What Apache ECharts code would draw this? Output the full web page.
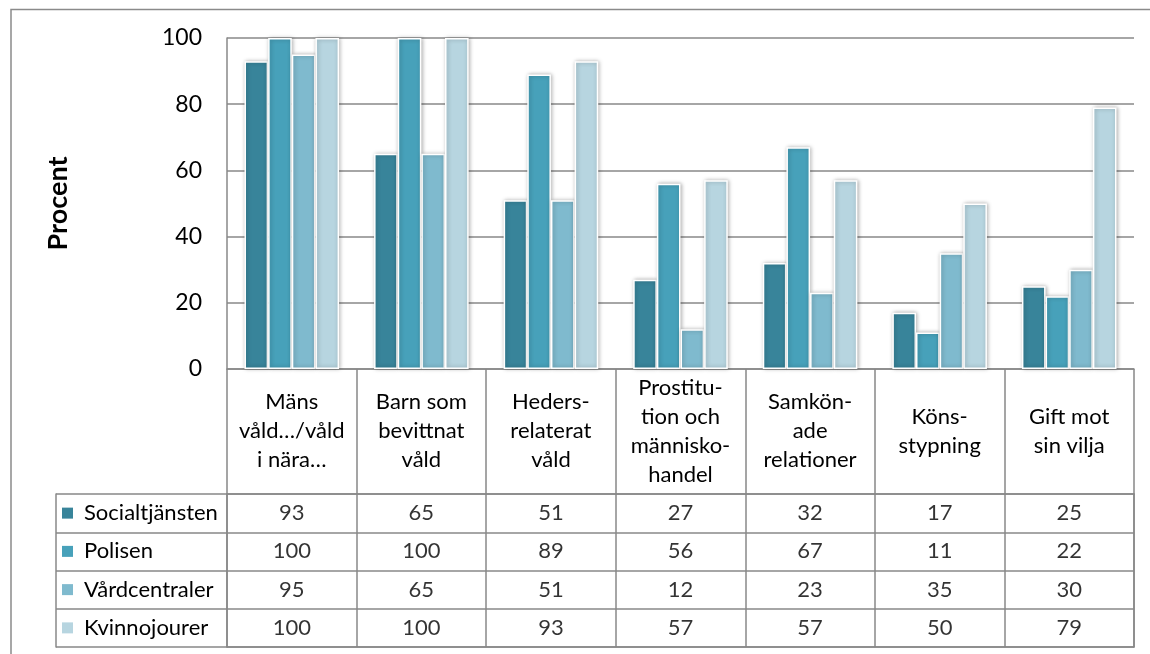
<!DOCTYPE html>
<html>
<head>
<meta charset="utf-8">
<script src="https://cdn.jsdelivr.net/npm/echarts@6/dist/echarts.min.js"></script>
<style>
    html, body { margin: 0; padding: 0; background: #fff; }
    #chart { width: 1150px; height: 654px; }
</style>
</head>
<body>
<div id="chart"></div>
<script>
    // kategorier (rubrikraden i tabellen)
    var categories = ['Mäns\nvåld…/våld\ni nära…', 'Barn som\nbevittnat\nvåld', 'Heders-\nrelaterat\nvåld',
        'Prostitu-\ntion och\nmännisko-\nhandel', 'Samkön-\nade\nrelationer', 'Köns-\nstypning', 'Gift mot\nsin vilja'];
    var seriesNames = ['Socialtjänsten', 'Polisen', 'Vårdcentraler', 'Kvinnojourer'];
    var socialtjansten = [93, 65, 51, 27, 32, 17, 25];
    var polisen = [100, 100, 89, 56, 67, 11, 22];
    var vardcentraler = [95, 65, 51, 12, 23, 35, 30];
    var kvinnojourer = [100, 100, 93, 57, 57, 50, 79];
    var yTicks = { min: 0, max: 100, interval: 20 };

    var values = [socialtjansten, polisen, vardcentraler, kvinnojourer];
    var colors = ['#38849a', '#47a1ba', '#7fbace', '#b7d5e0'];
    var lineColor = '#888888';
    var font = 'Lato';

    var rich = { t: { fontSize: 22, fontFamily: font, color: '#000', padding: [0, 0, 0, 11] } };
    colors.forEach(function (c, i) {
        rich['k' + i] = { width: 11, height: 11, backgroundColor: c };
    });

    var series = [];
    values.forEach(function (vals, i) {
        series.push({
            name: seriesNames[i],
            type: 'bar',
            xAxisIndex: 0,
            yAxisIndex: 0,
            data: vals,
            barGap: '0%',
            barCategoryGap: '27%',
            itemStyle: {
                color: colors[i],
                borderColor: '#fff',
                borderWidth: 1.5,
                shadowBlur: 4,
                shadowColor: 'rgba(0,0,0,0.3)',
                shadowOffsetX: 1,
                shadowOffsetY: 0
            }
        });
        // tabellens celler
        series.push({
            type: 'scatter',
            xAxisIndex: 1,
            yAxisIndex: 1,
            symbolSize: 1,
            itemStyle: { color: 'rgba(0,0,0,0)' },
            silent: true,
            data: vals.map(function (v, j) { return [j, i, v]; }),
            label: {
                show: true,
                position: 'inside',
                fontSize: 22,
                fontFamily: font,
                color: '#000',
                formatter: function (p) { return String(p.value[2]); }
            }
        });
    });

    var chart = echarts.init(document.getElementById('chart'));
    chart.setOption({
        animation: false,
        grid: [
            { left: 227, right: 16, top: 38, bottom: 285 },
            { left: 227, right: 16, top: 494, bottom: 7 }
        ],
        xAxis: [
            {
                type: 'category', gridIndex: 0, data: categories, position: 'bottom',
                axisLine: { show: true, lineStyle: { color: lineColor, width: 1.5 } },
                axisTick: { show: true, length: 125, lineStyle: { color: lineColor, width: 1.5 } },
                axisLabel: {
                    margin: 62, verticalAlign: 'middle', fontSize: 22, fontFamily: font,
                    color: '#000', lineHeight: 29, interval: 0, align: 'center'
                }
            },
            {
                type: 'category', gridIndex: 1, data: categories, position: 'bottom',
                axisLine: { show: true, lineStyle: { color: lineColor, width: 1.5 } },
                axisTick: { show: false }, axisLabel: { show: false },
                splitLine: { show: true, lineStyle: { color: lineColor, width: 1.5 } }
            },
            {
                type: 'category', gridIndex: 1, data: categories, position: 'top',
                axisLine: { show: true, lineStyle: { color: lineColor, width: 1.5 } },
                axisTick: { show: false }, axisLabel: { show: false }
            }
        ],
        yAxis: [
            {
                type: 'value', gridIndex: 0, min: yTicks.min, max: yTicks.max, interval: yTicks.interval,
                name: 'Procent', nameLocation: 'middle', nameGap: 155, nameRotate: 90,
                nameTextStyle: { fontSize: 27, fontWeight: 'bold', fontFamily: font, color: '#000' },
                axisLine: { show: true, lineStyle: { color: lineColor, width: 1.5 } },
                axisTick: { show: false },
                axisLabel: { margin: 25, fontSize: 23, fontFamily: font, color: '#000' },
                splitLine: { show: true, lineStyle: { color: lineColor, width: 1.5 } }
            },
            {
                type: 'category', gridIndex: 1, data: seriesNames, inverse: true, position: 'left',
                axisLine: { show: true, lineStyle: { color: lineColor, width: 1.5 } },
                axisTick: { show: true, length: 171, lineStyle: { color: lineColor, width: 1.5 } },
                splitLine: { show: true, lineStyle: { color: lineColor, width: 1.5 } },
                axisLabel: {
                    align: 'left', margin: 165,
                    formatter: function (v, i) { return '{k' + i + '|}{t|' + v + '}'; },
                    rich: rich
                }
            },
            {
                type: 'category', gridIndex: 1, data: seriesNames, position: 'left', offset: 171,
                axisLine: { show: true, lineStyle: { color: lineColor, width: 1.5 } },
                axisTick: { show: false }, axisLabel: { show: false }
            },
            {
                type: 'category', gridIndex: 1, data: seriesNames, position: 'right',
                axisLine: { show: true, lineStyle: { color: lineColor, width: 1.5 } },
                axisTick: { show: false }, axisLabel: { show: false }
            }
        ],
        graphic: [{
            type: 'rect',
            shape: { x: 11, y: 9.5, width: 1300, height: 800 },
            style: { fill: 'none', stroke: '#8a8a8a', lineWidth: 1.5 },
            silent: true
        }],
        series: series
    });
</script>
</body>
</html>
